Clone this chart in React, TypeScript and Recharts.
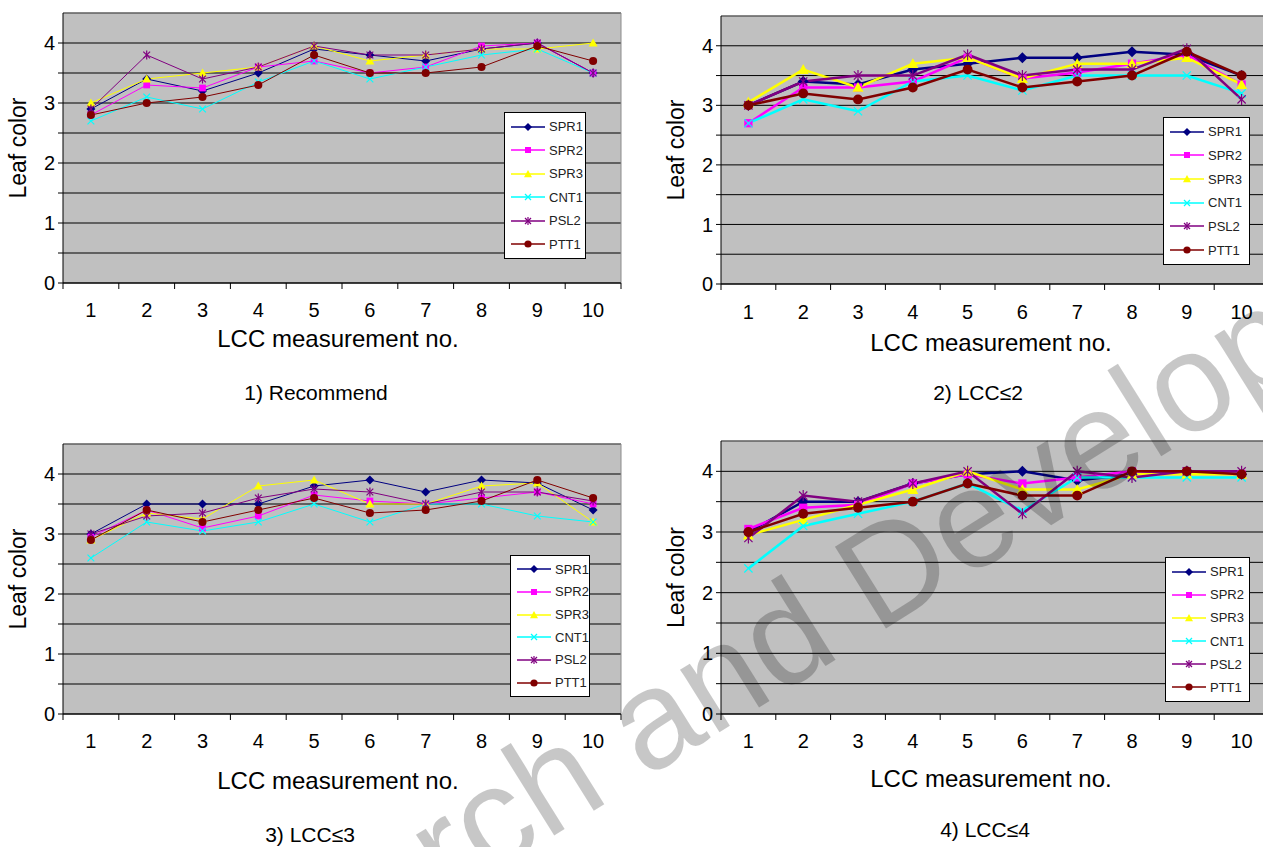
import React from 'react';
import { LineChart, Line, XAxis, YAxis, CartesianGrid, Legend, ReferenceLine } from 'recharts';

const FONT = '"Liberation Sans", Arial, sans-serif';

const measurements = [1, 2, 3, 4, 5, 6, 7, 8, 9, 10];
const xTicks = [0.5, 1, 1.5, 2, 2.5, 3, 3.5, 4, 4.5, 5, 5.5, 6, 6.5, 7, 7.5, 8, 8.5, 9, 9.5, 10, 10.5];
const yTicks = [0, 0.5, 1, 1.5, 2, 2.5, 3, 3.5, 4];

const seriesNames = ['SPR1', 'SPR2', 'SPR3', 'CNT1', 'PSL2', 'PTT1'];
const seriesColors = ['#000080', '#ff00ff', '#ffff00', '#00ffff', '#800080', '#800000'];
const seriesShapes = ['diamond', 'square', 'triangle', 'cross', 'star', 'circle'];

// 1) Recommend
const recSPR1 = [2.9, 3.4, 3.2, 3.5, 3.9, 3.8, 3.7, 3.9, 4.0, 3.5];
const recSPR2 = [2.8, 3.3, 3.25, 3.6, 3.7, 3.5, 3.6, 3.95, 4.0, 3.5];
const recSPR3 = [3.0, 3.4, 3.5, 3.6, 3.95, 3.7, 3.8, 3.9, 3.9, 4.0];
const recCNT1 = [2.7, 3.1, 2.9, 3.35, 3.7, 3.4, 3.6, 3.8, 3.9, 3.5];
const recPSL2 = [2.9, 3.8, 3.4, 3.6, 3.95, 3.8, 3.8, 3.9, 4.0, 3.5];
const recPTT1 = [2.8, 3.0, 3.1, 3.3, 3.8, 3.5, 3.5, 3.6, 3.95, 3.7];

// 2) LCC<=2
const lcc2SPR1 = [3.0, 3.4, 3.35, 3.6, 3.7, 3.8, 3.8, 3.9, 3.85, 3.5];
const lcc2SPR2 = [2.7, 3.3, 3.3, 3.4, 3.8, 3.45, 3.55, 3.7, 3.85, 3.35];
const lcc2SPR3 = [3.05, 3.6, 3.3, 3.7, 3.8, 3.45, 3.7, 3.7, 3.8, 3.35];
const lcc2CNT1 = [2.7, 3.1, 2.9, 3.4, 3.5, 3.25, 3.5, 3.5, 3.5, 3.2];
const lcc2PSL2 = [3.0, 3.4, 3.5, 3.5, 3.85, 3.5, 3.6, 3.6, 3.95, 3.1];
const lcc2PTT1 = [3.0, 3.2, 3.1, 3.3, 3.6, 3.3, 3.4, 3.5, 3.9, 3.5];

// 3) LCC<=3
const lcc3SPR1 = [3.0, 3.5, 3.5, 3.5, 3.8, 3.9, 3.7, 3.9, 3.85, 3.4];
const lcc3SPR2 = [2.95, 3.4, 3.1, 3.3, 3.65, 3.55, 3.5, 3.6, 3.7, 3.5];
const lcc3SPR3 = [2.9, 3.35, 3.25, 3.8, 3.9, 3.5, 3.5, 3.8, 3.85, 3.2];
const lcc3CNT1 = [2.6, 3.2, 3.05, 3.2, 3.5, 3.2, 3.5, 3.5, 3.3, 3.2];
const lcc3PSL2 = [3.0, 3.3, 3.35, 3.6, 3.75, 3.7, 3.5, 3.7, 3.7, 3.55];
const lcc3PTT1 = [2.9, 3.4, 3.2, 3.4, 3.6, 3.35, 3.4, 3.55, 3.9, 3.6];

// 4) LCC<=4
const lcc4SPR1 = [3.0, 3.5, 3.5, 3.8, 3.95, 4.0, 3.85, 3.95, 4.0, 3.95];
const lcc4SPR2 = [3.05, 3.4, 3.45, 3.8, 3.95, 3.8, 3.9, 4.0, 4.0, 3.95];
const lcc4SPR3 = [2.95, 3.2, 3.45, 3.7, 4.0, 3.7, 3.7, 3.95, 3.95, 3.95];
const lcc4CNT1 = [2.4, 3.1, 3.3, 3.5, 3.8, 3.35, 3.9, 3.9, 3.9, 3.9];
const lcc4PSL2 = [2.9, 3.6, 3.5, 3.8, 4.0, 3.3, 4.0, 3.9, 4.0, 4.0];
const lcc4PTT1 = [3.0, 3.3, 3.4, 3.5, 3.8, 3.6, 3.6, 4.0, 4.0, 3.95];

const buildRows = (series: number[][]) =>
  measurements.map((m, i) => {
    const row: Record<string, number> = { m };
    seriesNames.forEach((name, k) => {
      row[name] = series[k][i];
    });
    return row;
  });

const panels = [
  {
    title: '1) Recommend',
    rows: buildRows([recSPR1, recSPR2, recSPR3, recCNT1, recPSL2, recPTT1]),
    left: 0, top: 0, width: 631, height: 380,
    margin: { top: 13, right: 10, bottom: 37, left: 0 },
    yAxisWidth: 63, strokeWidth: 1, markerR: 4.5,
    legend: { x: 504, y: 112, w: 82, h: 147 },
    tickY: 27, titleY: 55, sub: { x: 316, y: 393 },
  },
  {
    title: '2) LCC\u22642',
    rows: buildRows([lcc2SPR1, lcc2SPR2, lcc2SPR3, lcc2CNT1, lcc2PSL2, lcc2PTT1]),
    left: 640, top: 0, width: 640, height: 380,
    margin: { top: 16, right: 11, bottom: 36, left: 0 },
    yAxisWidth: 81, strokeWidth: 2.5, markerR: 5.5,
    legend: { x: 523, y: 117, w: 87, h: 148 },
    tickY: 28, titleY: 58, sub: { x: 978, y: 393 },
  },
  {
    title: '3) LCC\u22643',
    rows: buildRows([lcc3SPR1, lcc3SPR2, lcc3SPR3, lcc3CNT1, lcc3PSL2, lcc3PTT1]),
    left: 0, top: 430, width: 631, height: 380,
    margin: { top: 14, right: 10, bottom: 36, left: 0 },
    yAxisWidth: 63, strokeWidth: 1, markerR: 4.5,
    legend: { x: 510, y: 125, w: 80, h: 142 },
    tickY: 27, titleY: 66, sub: { x: 310, y: 835 },
  },
  {
    title: '4) LCC\u22644',
    rows: buildRows([lcc4SPR1, lcc4SPR2, lcc4SPR3, lcc4CNT1, lcc4PSL2, lcc4PTT1]),
    left: 640, top: 430, width: 640, height: 380,
    margin: { top: 11, right: 11, bottom: 36, left: 0 },
    yAxisWidth: 81, strokeWidth: 2.5, markerR: 5.5,
    legend: { x: 525, y: 127, w: 85, h: 145 },
    tickY: 27, titleY: 64, sub: { x: 985, y: 830 },
  },
];

function Marker({ shape, cx, cy, color, r }: { shape: string; cx: number; cy: number; color: string; r: number }) {
  if (cx == null || cy == null) return null;
  switch (shape) {
    case 'diamond':
      return <polygon points={`${cx},${cy - r} ${cx + r},${cy} ${cx},${cy + r} ${cx - r},${cy}`} fill={color} />;
    case 'square': {
      const h = r * 0.75;
      return <rect x={cx - h} y={cy - h} width={h * 2} height={h * 2} fill={color} />;
    }
    case 'triangle':
      return <polygon points={`${cx},${cy - r} ${cx + r},${cy + r * 0.8} ${cx - r},${cy + r * 0.8}`} fill={color} />;
    case 'cross': {
      const d = r * 0.75;
      return (
        <g stroke={color} strokeWidth={1.2}>
          <line x1={cx - d} y1={cy - d} x2={cx + d} y2={cy + d} />
          <line x1={cx - d} y1={cy + d} x2={cx + d} y2={cy - d} />
        </g>
      );
    }
    case 'star': {
      const d = r * 0.75;
      return (
        <g stroke={color} strokeWidth={1.2}>
          <line x1={cx - d} y1={cy - d} x2={cx + d} y2={cy + d} />
          <line x1={cx - d} y1={cy + d} x2={cx + d} y2={cy - d} />
          <line x1={cx} y1={cy - r} x2={cx} y2={cy + r} />
        </g>
      );
    }
    default:
      return <circle cx={cx} cy={cy} r={r * 0.9} fill={color} />;
  }
}

function XTick(props: any) {
  const { x, y, payload, labelY } = props;
  const v = payload.value;
  if (Number.isInteger(v)) {
    return (
      <text x={x} y={y + labelY} textAnchor="middle" dominantBaseline="central" fontSize={20} fontFamily={FONT} fill="#000">
        {v}
      </text>
    );
  }
  return <line x1={x} x2={x} y1={y} y2={y + 6} stroke="#000" />;
}

function LegendBox({ w, h }: { w: number; h: number }) {
  return (
    <div
      style={{
        width: w, height: h, boxSizing: 'border-box', background: '#fff', border: '1px solid #000',
        display: 'flex', flexDirection: 'column', justifyContent: 'space-around', padding: '2px 0',
        fontFamily: FONT, fontSize: 13, color: '#222',
      }}
    >
      {seriesNames.map((name, k) => (
        <div key={name} style={{ display: 'flex', alignItems: 'center', height: 20 }}>
          <svg width={44} height={14} style={{ flex: 'none' }}>
            <line x1={6} x2={40} y1={7} y2={7} stroke={seriesColors[k]} strokeWidth={1.5} />
            <Marker shape={seriesShapes[k]} cx={23} cy={7} color={seriesColors[k]} r={4} />
          </svg>
          <span>{name}</span>
        </div>
      ))}
    </div>
  );
}

function Panel({ p }: { p: (typeof panels)[number] }) {
  return (
    <div style={{ position: 'absolute', left: p.left, top: p.top }}>
      <LineChart width={p.width} height={p.height} data={p.rows} margin={p.margin}>
        <CartesianGrid vertical={false} fill="#c0c0c0" stroke="#000" strokeOpacity={1} />
        <ReferenceLine y={4.5} stroke="#8c8c8c" />
        <ReferenceLine x={10.5} stroke="#8c8c8c" />
        <XAxis
          dataKey="m"
          type="number"
          domain={[0.5, 10.5]}
          ticks={xTicks}
          interval={0}
          height={60}
          stroke="#000"
          tickLine={false}
          tickSize={0}
          tickMargin={0}
          tick={<XTick labelY={p.tickY} />}
          label={(lp: any) => {
            const vb = lp.viewBox;
            return (
              <text x={vb.x + vb.width / 2 - 4} y={vb.y + p.titleY} textAnchor="middle" dominantBaseline="central" fontSize={24} fontFamily={FONT} fill="#000">
                LCC measurement no.
              </text>
            );
          }}
        />
        <YAxis
          type="number"
          domain={[0, 4.5]}
          ticks={yTicks}
          interval={0}
          allowDataOverflow
          width={p.yAxisWidth}
          stroke="#000"
          tickSize={5}
          tickMargin={3}
          tickFormatter={(v: number) => (Number.isInteger(v) ? String(v) : '')}
          tick={{ fill: '#000', fontSize: 20, fontFamily: FONT }}
          label={(lp: any) => {
            const vb = lp.viewBox;
            const cx = p.yAxisWidth - 45;
            const cy = vb.y + vb.height / 2;
            return (
              <text x={cx} y={cy} transform={`rotate(-90 ${cx} ${cy})`} textAnchor="middle" dominantBaseline="central" fontSize={23} fontFamily={FONT} fill="#000">
                Leaf color
              </text>
            );
          }}
        />
        <Legend
          layout="vertical"
          align="center"
          verticalAlign="middle"
          wrapperStyle={{ left: p.legend.x, top: p.legend.y, width: p.legend.w, height: p.legend.h }}
          content={() => <LegendBox w={p.legend.w} h={p.legend.h} />}
        />
        {seriesNames.map((name, k) => (
          <Line
            key={name}
            type="linear"
            dataKey={name}
            stroke={seriesColors[k]}
            strokeWidth={p.strokeWidth}
            isAnimationActive={false}
            activeDot={false}
            dot={(d: any) => (
              <Marker key={`${name}-${d.index}`} shape={seriesShapes[k]} cx={d.cx} cy={d.cy} color={seriesColors[k]} r={p.markerR} />
            )}
          />
        ))}
      </LineChart>
      <div
        style={{
          position: 'absolute', left: p.sub.x - p.left, top: p.sub.y - p.top, transform: 'translate(-50%, -50%)',
          fontFamily: FONT, fontSize: 21, whiteSpace: 'nowrap', color: '#000',
        }}
      >
        {p.title}
      </div>
    </div>
  );
}

export default function App() {
  return (
    <div style={{ position: 'absolute', left: 0, top: 0, width: 1263, height: 847, overflow: 'hidden', background: '#fff' }}>
      {panels.map((p) => (
        <Panel key={p.title} p={p} />
      ))}
      <svg width={1263} height={847} style={{ position: 'absolute', left: 0, top: 0, pointerEvents: 'none' }}>
        <text
          x={104}
          y={1117}
          transform="rotate(-32 104 1117)"
          fontSize={140}
          fontFamily={FONT}
          fill="#000"
          fillOpacity={0.22}
        >
          Research and Development
        </text>
      </svg>
    </div>
  );
}
